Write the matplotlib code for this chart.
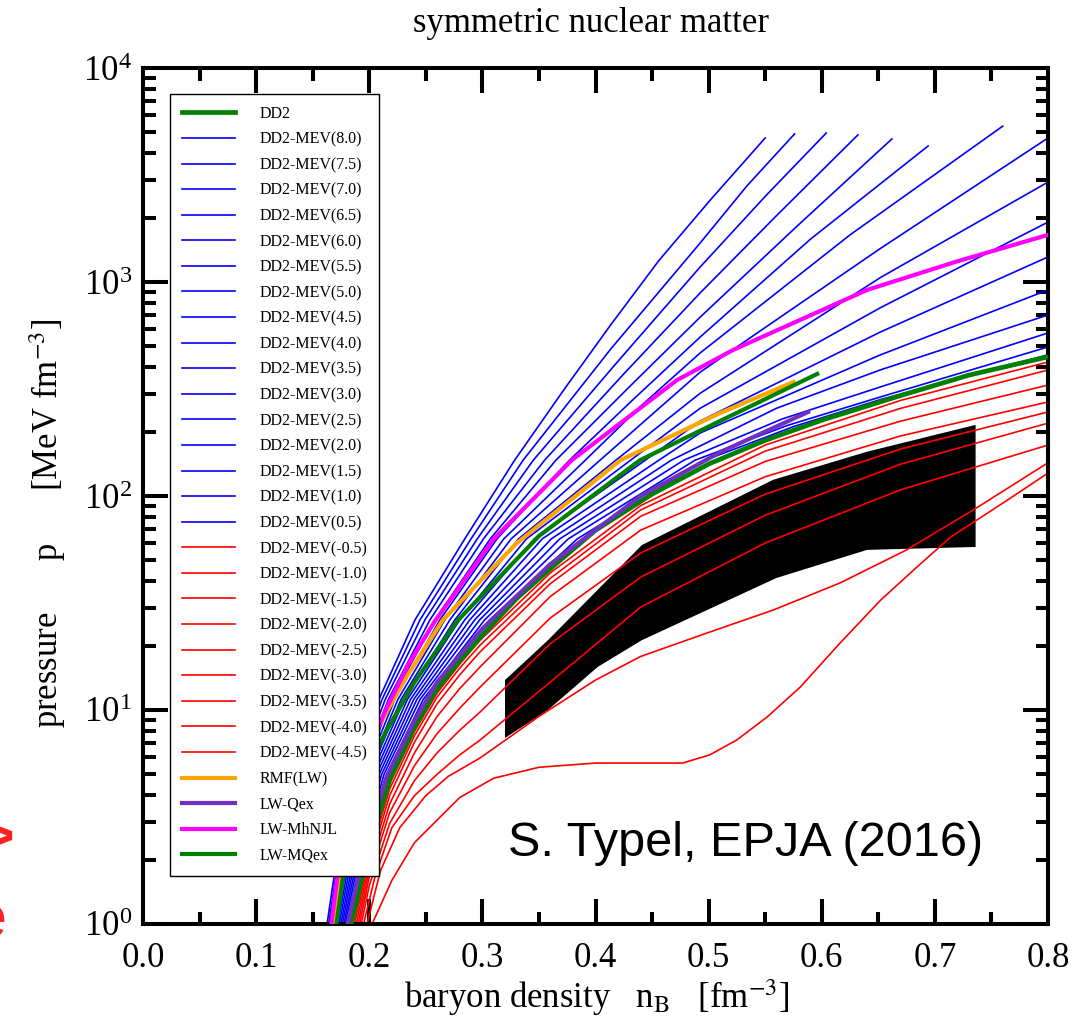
import numpy as np
import matplotlib
matplotlib.use('Agg')
import matplotlib.pyplot as plt
from matplotlib.ticker import MultipleLocator, LogLocator, NullFormatter, FormatStrFormatter, LogFormatterMathtext

plt.rcParams['font.family'] = ['Liberation Serif', 'DejaVu Serif']
plt.rcParams['mathtext.fontset'] = 'stix'

# ---- data: baryon density n [fm^-3], pressure p [MeV fm^-3] ----
dd2_n = [0.184, 0.2, 0.218, 0.24, 0.26, 0.28, 0.30, 0.33, 0.36, 0.40, 0.45, 0.50, 0.55, 0.60, 0.67, 0.73, 0.80]
dd2_p = [1.0, 2.29, 4.71, 8.32, 12.6, 17.0, 22.4, 33.1, 45.7, 69.2, 102, 141, 182, 226, 295, 367, 447]

blue_labels = ['DD2-MEV(8.0)', 'DD2-MEV(7.5)', 'DD2-MEV(7.0)', 'DD2-MEV(6.5)', 'DD2-MEV(6.0)',
               'DD2-MEV(5.5)', 'DD2-MEV(5.0)', 'DD2-MEV(4.5)', 'DD2-MEV(4.0)', 'DD2-MEV(3.5)',
               'DD2-MEV(3.0)', 'DD2-MEV(2.5)', 'DD2-MEV(2.0)', 'DD2-MEV(1.5)', 'DD2-MEV(1.0)',
               'DD2-MEV(0.5)']
# lower part of the blue curves: density at these pressure levels
blue_p_low = [1.0, 2.24, 5.01, 11.2, 26.4, 63.1, 147.0]
blue_n_low = [
    [0.1627, 0.1725, 0.1848, 0.2085, 0.2405, 0.2845, 0.3285],
    [0.1641, 0.1742, 0.1870, 0.2113, 0.2449, 0.2900, 0.3360],
    [0.1654, 0.1758, 0.1892, 0.2141, 0.2493, 0.2955, 0.3450],
    [0.1668, 0.1775, 0.1913, 0.2169, 0.2537, 0.3010, 0.3550],
    [0.1681, 0.1792, 0.1935, 0.2197, 0.2581, 0.3070, 0.3650],
    [0.1695, 0.1809, 0.1957, 0.2225, 0.2625, 0.3130, 0.3770],
    [0.1708, 0.1825, 0.1979, 0.2253, 0.2669, 0.3190, 0.3910],
    [0.1722, 0.1842, 0.2001, 0.2281, 0.2713, 0.3255, 0.4040],
    [0.1735, 0.1859, 0.2022, 0.2309, 0.2757, 0.3320, 0.4180],
    [0.1749, 0.1876, 0.2044, 0.2337, 0.2801, 0.3390, 0.4310],
    [0.1762, 0.1892, 0.2066, 0.2365, 0.2845, 0.3460, 0.4440],
    [0.1776, 0.1909, 0.2088, 0.2393, 0.2889, 0.3530, 0.4560],
    [0.1789, 0.1925, 0.2110, 0.2421, 0.2933, 0.3610, 0.4670],
    [0.1803, 0.1942, 0.2131, 0.2449, 0.2977, 0.3685, 0.4780],
    [0.1816, 0.1959, 0.2153, 0.2477, 0.3021, 0.3760, 0.4880],
    [0.1830, 0.1975, 0.2175, 0.2505, 0.3065, 0.3840, 0.4970],
]
# upper part of the blue curves
blue_n_high = [
    [0.3725, 0.4135, 0.456, 0.501, 0.550],
    [0.414, 0.4925, 0.534, 0.576],
    [0.42, 0.4925, 0.55, 0.604],
    [0.425, 0.4925, 0.56, 0.632],
    [0.43, 0.4925, 0.58, 0.662],
    [0.435, 0.4925, 0.59, 0.694],
    [0.44, 0.4925, 0.625, 0.760],
    [0.4925, 0.65, 0.8],
    [0.4925, 0.6516, 0.8],
    [0.4925, 0.6516, 0.8],
    [0.4925, 0.6516, 0.8],
    [0.4925, 0.6516, 0.8],
    [0.56, 0.6516, 0.8],
    [0.565, 0.6516, 0.8],
    [0.57, 0.6516, 0.8],
    [0.575, 0.6516, 0.8],
]
blue_p_high = [
    [316, 631, 1259, 2400, 4710],
    [490, 1521, 2818, 4920],
    [427, 1175, 2512, 4970],
    [372, 889, 2042, 4870],
    [324, 685, 1862, 4660],
    [288, 553, 1585, 4320],
    [263, 466, 1660, 5350],
    [379, 1413, 4710],
    [302, 1047, 2930],
    [257, 757, 1905],
    [224, 583, 1309],
    [197, 456, 918],
    [257, 388, 701],
    [229, 323, 578],
    [214, 290, 497],
    [211, 282, 457],
]

red_labels = ['DD2-MEV(-0.5)', 'DD2-MEV(-1.0)', 'DD2-MEV(-1.5)', 'DD2-MEV(-2.0)', 'DD2-MEV(-2.5)',
              'DD2-MEV(-3.0)', 'DD2-MEV(-3.5)', 'DD2-MEV(-4.0)', 'DD2-MEV(-4.5)']
red_n = [
    [0.1855, 0.2, 0.218, 0.24, 0.26, 0.28, 0.298, 0.36, 0.44, 0.55, 0.67, 0.8],
    [0.187, 0.2, 0.218, 0.24, 0.26, 0.28, 0.298, 0.36, 0.44, 0.55, 0.67, 0.8],
    [0.1885, 0.2, 0.218, 0.24, 0.26, 0.28, 0.298, 0.36, 0.44, 0.55, 0.67, 0.8],
    [0.190, 0.2, 0.218, 0.24, 0.26, 0.28, 0.298, 0.36, 0.44, 0.55, 0.67, 0.8],
    [0.1915, 0.2, 0.218, 0.24, 0.26, 0.28, 0.298, 0.36, 0.44, 0.55, 0.67, 0.8],
    [0.193, 0.2, 0.218, 0.24, 0.26, 0.28, 0.298, 0.36, 0.44, 0.55, 0.67, 0.8],
    [0.195, 0.205, 0.22, 0.24, 0.26, 0.28, 0.298, 0.36, 0.44, 0.55, 0.67, 0.8],
    [0.198, 0.21, 0.227, 0.25, 0.27, 0.298, 0.35, 0.40, 0.44, 0.4986, 0.557, 0.616, 0.675, 0.734, 0.8],
    [0.2025, 0.22, 0.24, 0.26, 0.28, 0.31, 0.35, 0.40, 0.44, 0.477, 0.501, 0.525, 0.552, 0.581,
     0.616, 0.652, 0.684, 0.714, 0.764, 0.8],
]
red_p = [
    [1.0, 2.19, 4.52, 7.94, 12.0, 16.4, 21.2, 43.7, 90.2, 173, 280, 423],
    [1.0, 2.04, 4.27, 7.59, 11.5, 15.7, 20.1, 41.2, 86.1, 162, 257, 388],
    [1.0, 1.91, 3.98, 7.08, 10.7, 14.6, 18.7, 38.9, 80.4, 145, 224, 330],
    [1.0, 1.78, 3.63, 6.31, 9.33, 12.6, 15.9, 33.9, 69.3, 123, 191, 275],
    [1.0, 1.66, 3.31, 5.50, 7.76, 10.2, 12.8, 26.9, 54.2, 102, 166, 247],
    [1.0, 1.51, 2.95, 4.68, 6.31, 8.04, 9.79, 20.4, 41.8, 81.3, 141, 219],
    [1.0, 1.66, 2.82, 3.98, 5.01, 6.17, 7.24, 13.5, 30.3, 60.3, 107, 173],
    [1.0, 1.78, 2.82, 3.98, 4.90, 5.97, 9.33, 13.8, 17.8, 22.9, 29.3, 39.2, 56.0, 86.1, 143],
    [1.0, 1.6, 2.4, 3.06, 3.9, 4.8, 5.4, 5.65, 5.65, 5.65, 6.17, 7.25, 9.3, 12.8,
     20.5, 32.6, 46.5, 64.3, 95.6, 128],
]

rmf_n = [0.168, 0.177, 0.191, 0.205, 0.23, 0.265, 0.33, 0.422, 0.51, 0.575]
rmf_p = [1.0, 2.2, 4.8, 7.8, 13.5, 26.3, 60, 147, 244, 341]
qex_n = [0.181, 0.196, 0.215, 0.24, 0.26, 0.30, 0.36, 0.44, 0.51, 0.588]
qex_p = [1.0, 2.24, 4.8, 8.9, 13.5, 24, 48, 100, 160, 247]
mhnjl_n = [0.1665, 0.175, 0.19, 0.2145, 0.235, 0.258, 0.31, 0.379, 0.472, 0.5215, 0.64, 0.72, 0.8]
mhnjl_p = [1.0, 2.24, 5.0, 10.0, 16.5, 26.0, 63.0, 147, 348, 481, 918, 1250, 1660]
mqex_n = [0.171, 0.18, 0.195, 0.214, 0.24, 0.2785, 0.35, 0.4393, 0.51, 0.596]
mqex_p = [1.0, 2.2, 4.8, 7.8, 13.5, 26.3, 65, 147, 224, 372]

# flow constraint band
band_n = [0.320, 0.358, 0.441, 0.557, 0.640, 0.736, 0.736, 0.640, 0.560, 0.441, 0.402, 0.358, 0.320]
band_p = [13.8, 21.2, 59.0, 119, 161, 215, 57.8, 56.0, 41.4, 21.2, 15.9, 10.0, 7.4]

# ---- figure ----
W, H = 1077, 1025
fig = plt.figure(figsize=(W / 100, H / 100), dpi=100)
ax = fig.add_axes([143 / W, 1 - 924 / H, (1048 - 143) / W, (924 - 68) / H])

ax.fill(band_n, band_p, color='black', lw=0, zorder=1)

handles = []
h, = ax.plot(dd2_n, dd2_p, color='#008000', lw=3.4, label='DD2', zorder=3)
handles.append(h)
for k, lab in enumerate(blue_labels):
    n = blue_n_low[k] + blue_n_high[k]
    p = blue_p_low + blue_p_high[k]
    h, = ax.plot(n, p, color='#0000ff', lw=1.2, label=lab, zorder=2)
    handles.append(h)
for k, lab in enumerate(red_labels):
    h, = ax.plot(red_n[k], red_p[k], color='#ff0000', lw=1.2, label=lab, zorder=2)
    handles.append(h)
h, = ax.plot(rmf_n, rmf_p, color='#ffa500', lw=3.0, label='RMF(LW)', zorder=3)
handles.append(h)
h, = ax.plot(qex_n, qex_p, color='#7030c0', lw=3.0, label='LW-Qex', zorder=3)
handles.append(h)
h, = ax.plot(mhnjl_n, mhnjl_p, color='#ff00ff', lw=3.0, label='LW-MhNJL', zorder=3)
handles.append(h)
h, = ax.plot(mqex_n, mqex_p, color='#008000', lw=3.0, label='LW-MQex', zorder=3)
handles.append(h)

ax.set_yscale('log')
ax.set_xlim(0, 0.8)
ax.set_ylim(1, 1e4)
ax.xaxis.set_major_locator(MultipleLocator(0.1))
ax.xaxis.set_minor_locator(MultipleLocator(0.05))
ax.xaxis.set_major_formatter(FormatStrFormatter('%.1f'))
ax.yaxis.set_major_locator(LogLocator(base=10, numticks=10))
ax.yaxis.set_minor_locator(LogLocator(base=10, subs=np.arange(2, 10), numticks=10))
ax.yaxis.set_major_formatter(LogFormatterMathtext())
ax.yaxis.set_minor_formatter(NullFormatter())
ax.tick_params(which='both', direction='in', top=True, right=True, width=2.9, labelsize=25)
ax.tick_params(which='major', length=18)
ax.tick_params(axis='x', which='major', pad=13)
ax.tick_params(axis='y', which='major', pad=8)
ax.tick_params(which='minor', length=9)
for s in ax.spines.values():
    s.set_linewidth(2.9)

leg = ax.legend(handles=handles, loc='upper left', bbox_to_anchor=(0.0298, 0.9696),
                borderaxespad=0, fontsize=11.5, fancybox=False, edgecolor='black',
                framealpha=1, handlelength=3.3, handletextpad=1.55,
                labelspacing=0.6, borderpad=0.75)
leg.get_frame().set_linewidth(1.0)

ax.text(0.403, 0.094, 'S. Typel, EPJA (2016)', transform=ax.transAxes, fontsize=35,
        family='Liberation Sans', va='center', ha='left', zorder=6)

fig.text(0.549, 1 - 24 / H, 'symmetric nuclear matter', ha='center', va='center', fontsize=25)
fig.text(0.554, 1 - 998 / H, r'baryon density   n$_\mathrm{B}$   [fm$^{-3}$]',
         ha='center', va='center', fontsize=25)
fig.text(48 / W, 1 - 523 / H, r'pressure      p      [MeV fm$^{-3}$]', ha='center', va='center',
         rotation=90, fontsize=25)

# cropped red annotations at the left edge
fig.text(14 / W, 1 - 840 / H, '>', ha='right', va='center', fontsize=40, color='#ff2020',
         family='Liberation Sans', weight='bold')
fig.text(6 / W, 1 - 922 / H, 'e', ha='right', va='center', fontsize=44, color='#ff2020',
         family='Liberation Sans')

fig.savefig('out.png', dpi=100)
